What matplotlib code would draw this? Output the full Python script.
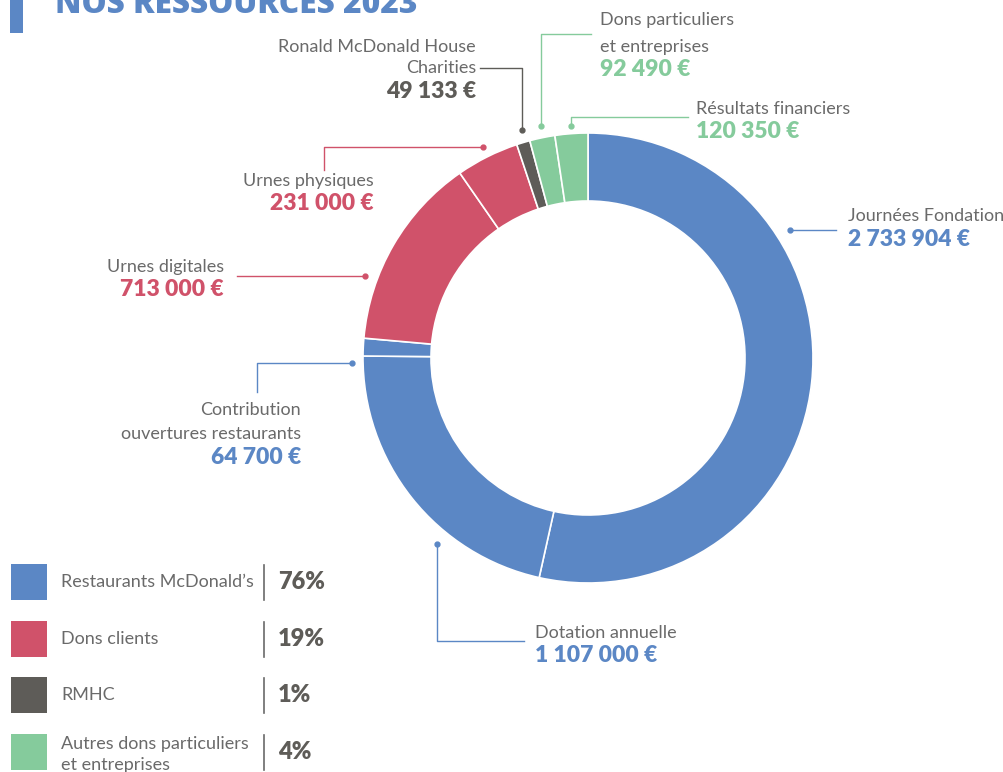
import matplotlib.pyplot as plt
from matplotlib.patches import Rectangle

# data: slices clockwise from the top
labels = ['Journées Fondation', 'Dotation annuelle', 'Contribution\nouvertures restaurants',
          'Urnes digitales', 'Urnes physiques', 'Ronald McDonald House\nCharities',
          'Dons particuliers\net entreprises', 'Résultats financiers']
values = [2733904, 1107000, 64700, 713000, 231000, 49133, 92490, 120350]
amounts = ['2 733 904 €', '1 107 000 €', '64 700 €', '713 000 €', '231 000 €',
           '49 133 €', '92 490 €', '120 350 €']
groups = ['resto', 'resto', 'resto', 'clients', 'clients', 'rmhc', 'autres', 'autres']

legend_names = ['Restaurants McDonald\u2019s', 'Dons clients', 'RMHC',
                'Autres dons particuliers\net entreprises']
legend_keys = ['resto', 'clients', 'rmhc', 'autres']
legend_pct = ['76%', '19%', '1%', '4%']

colors = {'resto': '#5b87c5', 'clients': '#d0526a', 'rmhc': '#5e5c58', 'autres': '#85cb9c'}
grey = '#6a6a6a'

plt.rcParams['font.family'] = ['Lato', 'DejaVu Sans']

fig = plt.figure(figsize=(10.04, 7.72), dpi=100)
ax = fig.add_axes([0, 0, 1, 1])

# donut (y axis inverted -> start at -90, counterclock gives clockwise on screen)
ax.pie(values, colors=[colors[g] for g in groups], startangle=-90, counterclock=True,
       radius=225, center=(588, 358),
       wedgeprops=dict(width=68, edgecolor='white', linewidth=1.2))

ax.set_xlim(0, 1004)
ax.set_ylim(772, 0)
ax.set_aspect('equal')
ax.axis('off')

# title (cut at the top edge, as in the original)
ax.add_patch(Rectangle((10, -5), 13, 38, color=colors['resto'], lw=0))
ax.text(55, 13, 'NOS RESSOURCES 2023', color=colors['resto'], fontsize=22.8,
        fontweight='heavy', family=['Open Sans', 'DejaVu Sans'], va='baseline', ha='left')

# label layout: (text x, y of each name line, amount y, ha, leader path)
layout = [
    (848, [216], 240, 'left', [(790, 230), (836, 230)]),
    (535, [633], 656, 'left', [(437, 544), (437, 641), (524, 641)]),
    (301, [410, 434], 457, 'right', [(352, 363), (257, 363), (257, 392)]),
    (224, [267], 290, 'right', [(365, 276), (237, 276)]),
    (374, [181], 204, 'right', [(483, 147), (324, 147), (324, 170)]),
    (476, [47, 68], 91, 'right', [(522, 130), (522, 68), (480, 68)]),
    (600, [20, 47], 70, 'left', [(541, 126), (541, 34), (591, 34)]),
    (696, [109], 132, 'left', [(571, 126), (571, 117), (688, 117)]),
]

for lab, amt, g, (tx, lys, ay, ha, path) in zip(labels, amounts, groups, layout):
    c = colors[g]
    for line, ly in zip(lab.split('\n'), lys):
        ax.text(tx, ly, line, ha=ha, va='center', fontsize=13, color=grey)
    ax.text(tx, ay, amt, ha=ha, va='center', fontsize=16.5, color=c, fontweight='heavy')
    xs = [p[0] for p in path]
    ys = [p[1] for p in path]
    ax.plot(xs, ys, color=c, lw=1)
    ax.plot(xs[0], ys[0], 'o', color=c, ms=3.5)

# legend
rows = [582, 639, 695, 752]
for name, key, pct, ry in zip(legend_names, legend_keys, legend_pct, rows):
    ax.add_patch(Rectangle((11, ry - 18), 36, 36, color=colors[key], lw=0))
    parts = name.split('\n')
    if len(parts) == 1:
        ax.text(61, ry, name, ha='left', va='center', fontsize=13, color=grey)
    else:
        ax.text(61, ry - 8, parts[0], ha='left', va='center', fontsize=13, color=grey)
        ax.text(61, ry + 13, parts[1], ha='left', va='center', fontsize=13, color=grey)
    ax.plot([264, 264], [ry - 17, ry + 18], color=grey, lw=1.2)
    ax.text(278, ry, pct, ha='left', va='center', fontsize=17, color=colors['rmhc'],
            fontweight='heavy')

fig.savefig('out.png', dpi=100)
